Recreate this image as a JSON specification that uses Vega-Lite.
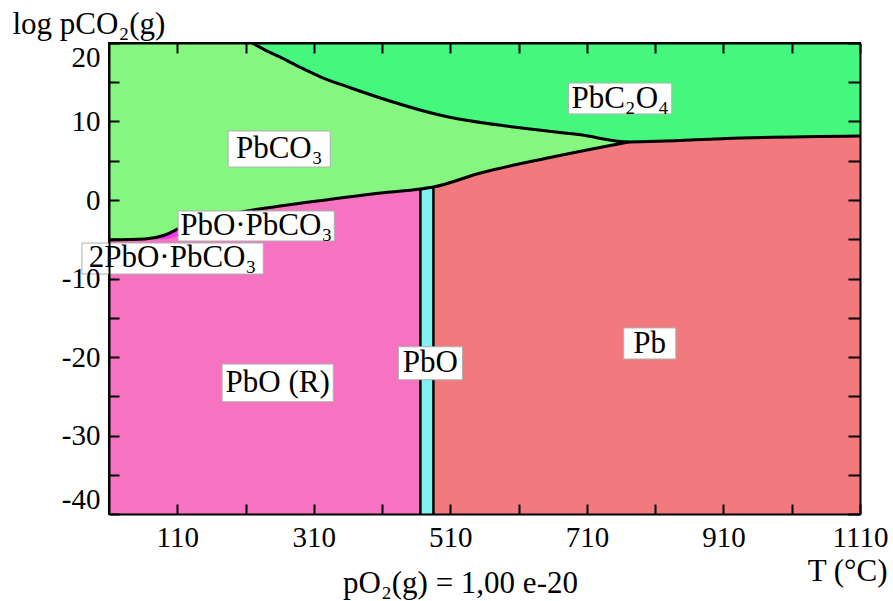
{
  "$schema": "https://vega.github.io/schema/vega-lite/v6.json",
  "width": 751,
  "height": 471,
  "autosize": {"type": "none"},
  "padding": {"left": 109, "top": 43, "right": 33, "bottom": 87},
  "background": "white",
  "config": {
    "view": {"stroke": "black", "strokeWidth": 2},
    "text": {"font": "Liberation Serif"},
    "axis": {
      "labelFont": "Liberation Serif", "titleFont": "Liberation Serif",
      "labelFontSize": 29, "titleFontSize": 31, "labelColor": "black", "titleColor": "black",
      "titleFontWeight": "normal", "tickColor": "black", "tickWidth": 2,
      "domain": true, "domainColor": "black", "domainWidth": 2, "grid": false,
      "labelOverlap": false
    }
  },
  "datasets": {
    "regions": [
      {"region": "PbCO3", "T": 10, "lo": -5.1, "hi": 20},
      {"region": "PbCO3", "T": 62.8, "lo": -4.97, "hi": 20},
      {"region": "PbCO3", "T": 92.1, "lo": -4.46, "hi": 20},
      {"region": "PbCO3", "T": 111.2, "lo": -3.69, "hi": 20},
      {"region": "PbCO3", "T": 187.5, "lo": -1.78, "hi": 20},
      {"region": "PbCO3", "T": 260.8, "lo": -0.76, "hi": 20},
      {"region": "PbCO3", "T": 338.5, "lo": 0.13, "hi": 20},
      {"region": "PbCO3", "T": 407.5, "lo": 0.89, "hi": 20},
      {"region": "PbCO3", "T": 466.1, "lo": 1.4, "hi": 20},
      {"region": "PbCO3", "T": 485.2, "lo": 1.66, "hi": 20},
      {"region": "PbCO3", "T": 554.1, "lo": 3.44, "hi": 20},
      {"region": "PbCO3", "T": 652.4, "lo": 5.35, "hi": 20},
      {"region": "PbCO3", "T": 740.4, "lo": 6.88, "hi": 20},
      {"region": "PbCO3", "T": 771.2, "lo": 7.39, "hi": 20},
      {"region": "PbC2O4", "T": 219.7, "lo": 20, "hi": 20},
      {"region": "PbC2O4", "T": 238.8, "lo": 19.1, "hi": 20},
      {"region": "PbC2O4", "T": 260.8, "lo": 18.2, "hi": 20},
      {"region": "PbC2O4", "T": 290.1, "lo": 16.9, "hi": 20},
      {"region": "PbC2O4", "T": 319.5, "lo": 15.7, "hi": 20},
      {"region": "PbC2O4", "T": 363.5, "lo": 14.3, "hi": 20},
      {"region": "PbC2O4", "T": 407.5, "lo": 13.0, "hi": 20},
      {"region": "PbC2O4", "T": 505.7, "lo": 10.6, "hi": 20},
      {"region": "PbC2O4", "T": 602.5, "lo": 9.3, "hi": 20},
      {"region": "PbC2O4", "T": 700.8, "lo": 8.3, "hi": 20},
      {"region": "PbC2O4", "T": 771.2, "lo": 7.39, "hi": 20},
      {"region": "PbC2O4", "T": 935.5, "lo": 7.9, "hi": 20},
      {"region": "PbC2O4", "T": 1110, "lo": 8.15, "hi": 20},
      {"region": "PbO(R)", "T": 10, "lo": -40, "hi": -5.1},
      {"region": "PbO(R)", "T": 62.8, "lo": -40, "hi": -4.97},
      {"region": "PbO(R)", "T": 92.1, "lo": -40, "hi": -4.46},
      {"region": "PbO(R)", "T": 111.2, "lo": -40, "hi": -3.69},
      {"region": "PbO(R)", "T": 187.5, "lo": -40, "hi": -1.78},
      {"region": "PbO(R)", "T": 260.8, "lo": -40, "hi": -0.76},
      {"region": "PbO(R)", "T": 338.5, "lo": -40, "hi": 0.13},
      {"region": "PbO(R)", "T": 407.5, "lo": -40, "hi": 0.89},
      {"region": "PbO(R)", "T": 466.1, "lo": -40, "hi": 1.4},
      {"region": "PbO·PbCO3", "T": 62.8, "lo": -4.97, "hi": -4.97},
      {"region": "PbO·PbCO3", "T": 92.1, "lo": -5.0, "hi": -4.46},
      {"region": "PbO·PbCO3", "T": 111.2, "lo": -4.6, "hi": -3.69},
      {"region": "PbO·PbCO3", "T": 150, "lo": -3.8, "hi": -2.72},
      {"region": "PbO", "T": 466.1, "lo": -40, "hi": 1.4},
      {"region": "PbO", "T": 485.2, "lo": -40, "hi": 1.66},
      {"region": "Pb", "T": 485.2, "lo": -40, "hi": 1.66},
      {"region": "Pb", "T": 554.1, "lo": -40, "hi": 3.44},
      {"region": "Pb", "T": 652.4, "lo": -40, "hi": 5.35},
      {"region": "Pb", "T": 740.4, "lo": -40, "hi": 6.88},
      {"region": "Pb", "T": 771.2, "lo": -40, "hi": 7.39},
      {"region": "Pb", "T": 935.5, "lo": -40, "hi": 7.9},
      {"region": "Pb", "T": 1110, "lo": -40, "hi": 8.15}
    ],
    "labels": [
      {"label": "PbC₂O₄", "T": 758.7, "p": 12.9, "T1": 683.2, "T2": 834.3, "p1": 14.9, "p2": 10.96},
      {"label": "PbCO₃", "T": 259.3, "p": 6.5, "T1": 184.5, "T2": 334.1, "p1": 8.79, "p2": 4.2},
      {"label": "PbO·PbCO₃", "T": 225.6, "p": -3.3, "T1": 111.2, "T2": 340, "p1": -1.4, "p2": -5.22},
      {"label": "2PbO·PbCO₃", "T": 103, "p": -7.45, "T1": -29.6, "T2": 235.9, "p1": -5.48, "p2": -9.43},
      {"label": "PbO (R)", "T": 257, "p": -23.3, "T1": 175.7, "T2": 338.5, "p1": -20.9, "p2": -25.7},
      {"label": "PbO", "T": 480.8, "p": -20.8, "T1": 433.9, "T2": 527.7, "p1": -18.7, "p2": -22.9},
      {"label": "Pb", "T": 802, "p": -18.3, "T1": 763.9, "T2": 840.2, "p1": -16.3, "p2": -20.25}
    ]
  },
  "resolve": {"axis": {"x": "independent", "y": "independent"}},
  "layer": [
    {
      "data": {"name": "regions"},
      "transform": [{"filter": "datum.region == 'PbCO3'"}],
      "mark": {"type": "area", "color": "#85F780", "opacity": 1, "interpolate": "monotone"},
      "encoding": {
        "x": {"field": "T", "type": "quantitative", "scale": {"domain": [10, 1110], "nice": false, "zero": false},
          "axis": {"orient": "bottom", "zindex": 1, "values": [110, 210, 310, 410, 510, 610, 710, 810, 910, 1010, 1110],
            "labelExpr": "(datum.value - 110) % 200 == 0 ? '' + datum.value : ''",
            "labelFont": "Liberation Serif", "labelFontSize": 29,
            "tickSize": -10, "labelPadding": 19, "labelFlush": false,
            "title": "pO₂(g) = 1,00 e-20", "titleX": 351, "titleY": 78, "titleAlign": "center", "titleBaseline": "alphabetic"}},
        "y": {"field": "lo", "type": "quantitative", "scale": {"domain": [-40, 20], "nice": false, "zero": false},
          "axis": {"orient": "left", "zindex": 1, "values": [-40, -35, -30, -25, -20, -15, -10, -5, 0, 5, 10, 15, 20],
            "labelExpr": "datum.value % 10 == 0 ? '' + datum.value : ''",
            "labelFont": "Liberation Serif", "labelFontSize": 29,
            "tickSize": -10, "labelPadding": 19, "labelFlush": true,
            "title": "log pCO₂(g)", "titleAngle": 0, "titleAlign": "left", "titleBaseline": "alphabetic", "titleX": -97, "titleY": -10}},
        "y2": {"field": "hi"}
      }
    },
    {
      "data": {"name": "regions"},
      "transform": [{"filter": "datum.region == 'PbC2O4'"}],
      "mark": {"type": "area", "color": "#45F77D", "opacity": 1, "interpolate": "monotone"},
      "encoding": {
        "x": {"field": "T", "type": "quantitative", "scale": {"domain": [10, 1110], "nice": false, "zero": false},
          "axis": {"orient": "top", "zindex": 1, "values": [110, 210, 310, 410, 510, 610, 710, 810, 910, 1010, 1110],
            "labels": false, "tickSize": -10,
            "title": "T (°C)", "titleX": 778, "titleY": 537, "titleAlign": "right", "titleBaseline": "alphabetic", "titleAngle": 0}},
        "y": {"field": "lo", "type": "quantitative", "scale": {"domain": [-40, 20], "nice": false, "zero": false},
          "axis": {"orient": "right", "zindex": 1, "values": [-40, -35, -30, -25, -20, -15, -10, -5, 0, 5, 10, 15, 20],
            "labels": false, "tickSize": -12, "title": null}},
        "y2": {"field": "hi"}
      }
    },
    {
      "data": {"name": "regions"},
      "transform": [{"filter": "datum.region == 'PbO(R)'"}],
      "mark": {"type": "area", "color": "#F573C0", "opacity": 1, "interpolate": "monotone"},
      "encoding": {
        "x": {"field": "T", "type": "quantitative", "scale": {"domain": [10, 1110], "nice": false, "zero": false}, "axis": null},
        "y": {"field": "lo", "type": "quantitative", "scale": {"domain": [-40, 20], "nice": false, "zero": false}, "axis": null},
        "y2": {"field": "hi"}
      }
    },
    {
      "data": {"name": "regions"},
      "transform": [{"filter": "datum.region == 'PbO·PbCO3'"}],
      "mark": {"type": "area", "color": "#F03CF0", "opacity": 1, "interpolate": "monotone"},
      "encoding": {
        "x": {"field": "T", "type": "quantitative", "scale": {"domain": [10, 1110], "nice": false, "zero": false}, "axis": null},
        "y": {"field": "lo", "type": "quantitative", "scale": {"domain": [-40, 20], "nice": false, "zero": false}, "axis": null},
        "y2": {"field": "hi"}
      }
    },
    {
      "data": {"name": "regions"},
      "transform": [{"filter": "datum.region == 'PbO'"}],
      "mark": {"type": "area", "color": "#80F0F0", "opacity": 1},
      "encoding": {
        "x": {"field": "T", "type": "quantitative", "scale": {"domain": [10, 1110], "nice": false, "zero": false}, "axis": null},
        "y": {"field": "lo", "type": "quantitative", "scale": {"domain": [-40, 20], "nice": false, "zero": false}, "axis": null},
        "y2": {"field": "hi"}
      }
    },
    {
      "data": {"name": "regions"},
      "transform": [{"filter": "datum.region == 'Pb'"}],
      "mark": {"type": "area", "color": "#F27A7E", "opacity": 1, "interpolate": "monotone"},
      "encoding": {
        "x": {"field": "T", "type": "quantitative", "scale": {"domain": [10, 1110], "nice": false, "zero": false}, "axis": null},
        "y": {"field": "lo", "type": "quantitative", "scale": {"domain": [-40, 20], "nice": false, "zero": false}, "axis": null},
        "y2": {"field": "hi"}
      }
    },
    {
      "data": {"name": "regions"},
      "transform": [{"filter": "datum.region == 'PbCO3' || datum.region == 'PbC2O4'"}],
      "mark": {"type": "line", "color": "black", "strokeWidth": 3, "interpolate": "monotone"},
      "encoding": {
        "x": {"field": "T", "type": "quantitative", "scale": {"domain": [10, 1110], "nice": false, "zero": false}, "axis": null},
        "y": {"field": "lo", "type": "quantitative", "scale": {"domain": [-40, 20], "nice": false, "zero": false}, "axis": null},
        "detail": {"field": "region"}
      }
    },
    {
      "data": {"name": "regions"},
      "transform": [{"filter": "datum.region == 'PbO'"}],
      "mark": {"type": "rule", "color": "black", "strokeWidth": 2.5},
      "encoding": {
        "x": {"field": "T", "type": "quantitative", "scale": {"domain": [10, 1110], "nice": false, "zero": false}, "axis": null},
        "y": {"field": "lo", "type": "quantitative", "scale": {"domain": [-40, 20], "nice": false, "zero": false}, "axis": null},
        "y2": {"field": "hi"}
      }
    },
    {
      "data": {"name": "labels"},
      "mark": {"type": "rect", "fill": "white", "stroke": "#B0B0B0", "strokeWidth": 1},
      "encoding": {
        "x": {"field": "T1", "type": "quantitative", "scale": {"domain": [10, 1110], "nice": false, "zero": false}, "axis": null},
        "x2": {"field": "T2"},
        "y": {"field": "p1", "type": "quantitative", "scale": {"domain": [-40, 20], "nice": false, "zero": false}, "axis": null},
        "y2": {"field": "p2"}
      }
    },
    {
      "data": {"name": "labels"},
      "mark": {"type": "text", "font": "Liberation Serif", "fontSize": 31, "color": "black", "align": "center", "baseline": "middle"},
      "encoding": {
        "x": {"field": "T", "type": "quantitative", "scale": {"domain": [10, 1110], "nice": false, "zero": false}, "axis": null},
        "y": {"field": "p", "type": "quantitative", "scale": {"domain": [-40, 20], "nice": false, "zero": false}, "axis": null},
        "text": {"field": "label"}
      }
    }
  ]
}
